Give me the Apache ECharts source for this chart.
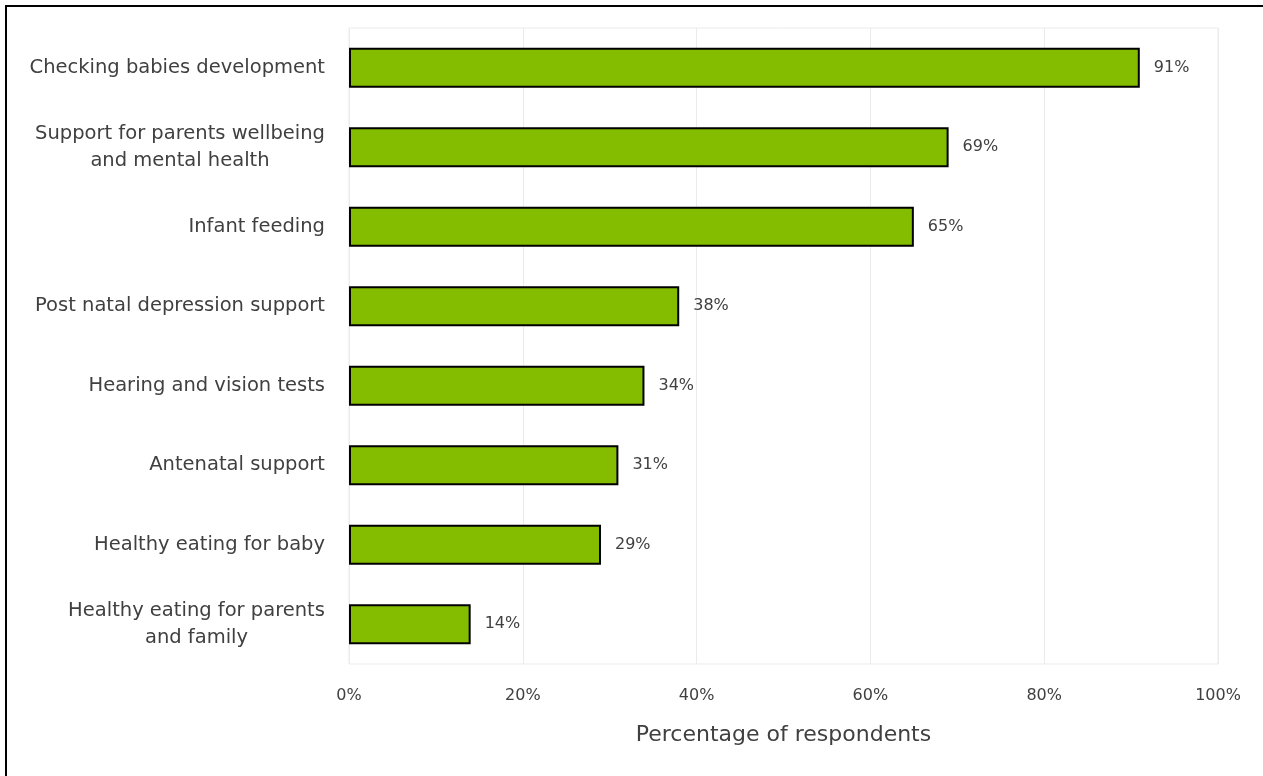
<!DOCTYPE html>
<html>
<head>
<meta charset="utf-8">
<title>Percentage of respondents</title>
<script src="https://cdn.jsdelivr.net/npm/echarts@6/dist/echarts.min.js"></script>
<style>
  html, body { margin: 0; padding: 0; background: #ffffff; overflow: hidden; }
  #frame {
    position: absolute; left: 5px; top: 5px;
    width: 1400px; height: 900px;
    border-left: 2px solid #000; border-top: 2px solid #000;
    pointer-events: none; z-index: 2;
  }
  #chart { position: absolute; left: 0; top: 0; width: 1263px; height: 776px; }
</style>
</head>
<body>
<div id="chart"></div>
<div id="frame"></div>
<script>
// Services respondents would use (top to bottom as drawn)
const categories = [
  'Checking babies development',
  'Support for parents wellbeing\nand mental health',
  'Infant feeding',
  'Post natal depression support',
  'Hearing and vision tests',
  'Antenatal support',
  'Healthy eating for baby',
  'Healthy eating for parents\nand family'
];
const values = [91, 69, 65, 38, 34, 31, 29, 14];
const xTicks = [0, 20, 40, 60, 80, 100];

const FONT = '"DejaVu Sans", "Open Sans", sans-serif';
const TEXT = '#404040';
const LABEL_SIZE = 19.5;
const LINE_H = 27;

// each two-line label gets its own rich style, as wide as its longest line,
// so the shorter line sits centred under the longer one
const ctx = document.createElement('canvas').getContext('2d');
ctx.font = LABEL_SIZE + 'px ' + FONT;
function textWidth(s) { return Math.ceil(ctx.measureText(s).width); }
const richStyles = {};
categories.forEach(function (c, i) {
  const lines = c.split('\n');
  if (lines.length > 1) {
    richStyles['c' + i] = {
      fontFamily: FONT, fontSize: LABEL_SIZE, color: TEXT, lineHeight: LINE_H,
      align: 'center', width: Math.max.apply(null, lines.map(textWidth))
    };
  }
});

const chart = echarts.init(document.getElementById('chart'), null, { renderer: 'canvas' });

chart.setOption({
  backgroundColor: '#ffffff',
  animation: false,
  grid: {
    left: 349, right: 45, top: 28, bottom: 112,
    show: true, borderColor: '#ebebeb', borderWidth: 1
  },
  xAxis: {
    type: 'value',
    min: 0, max: 100, interval: 20,
    name: 'Percentage of respondents',
    nameLocation: 'middle',
    nameGap: 60,
    nameTextStyle: { fontFamily: FONT, fontSize: 22, color: TEXT },
    axisLine: { show: false },
    axisTick: { show: false },
    splitLine: { show: true, lineStyle: { color: '#ebebeb', width: 1 } },
    axisLabel: {
      margin: 24,
      fontFamily: FONT, fontSize: 16, color: TEXT,
      formatter: function (v) { return xTicks.indexOf(v) >= 0 ? v + '%' : ''; }
    }
  },
  yAxis: {
    type: 'category',
    inverse: true,
    data: categories,
    axisLine: { show: false },
    axisTick: { show: false },
    axisLabel: {
      margin: 24,
      fontFamily: FONT, fontSize: LABEL_SIZE, color: TEXT, lineHeight: LINE_H,
      formatter: function (v, idx) {
        const lines = v.split('\n');
        if (lines.length === 1) return v;
        return lines.map(function (l) { return '{c' + idx + '|' + l + '}'; }).join('\n');
      },
      rich: richStyles
    }
  },
  series: [{
    type: 'bar',
    data: values,
    barWidth: 40,
    itemStyle: { color: '#84bc00', borderColor: '#000000', borderWidth: 2 },
    label: {
      show: true, position: 'right', distance: 14,
      fontFamily: FONT, fontSize: 16, color: TEXT,
      formatter: '{c}%'
    }
  }]
});
</script>
</body>
</html>
